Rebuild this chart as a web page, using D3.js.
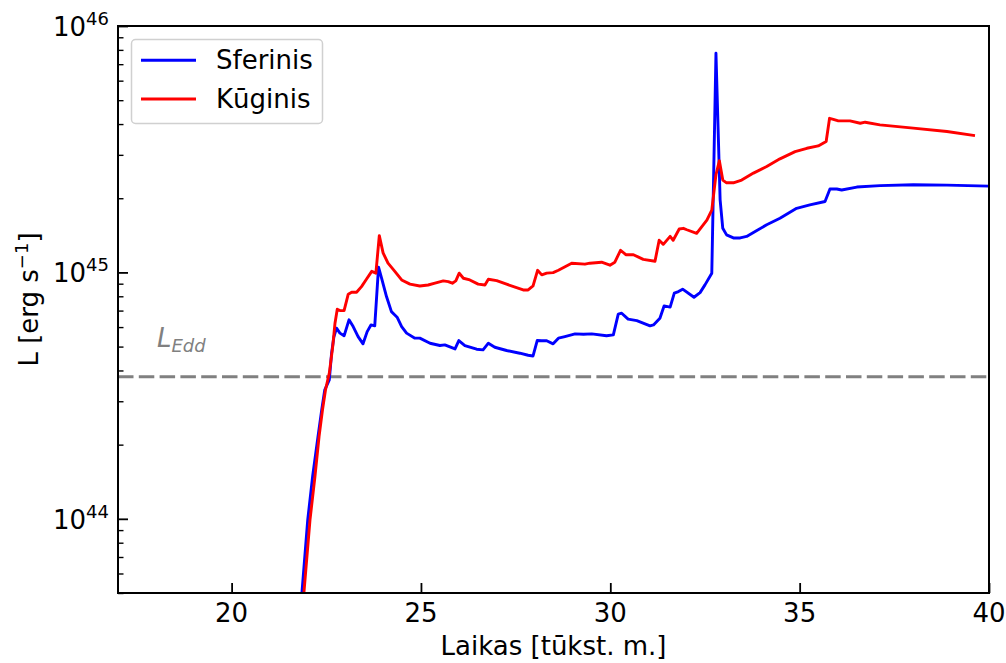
<!DOCTYPE html>
<html>
<head>
<meta charset="utf-8">
<script src="https://cdn.jsdelivr.net/npm/d3@7"></script>
<style>
  body { margin: 0; background: #fff; }
  text { font-family: "DejaVu Sans", sans-serif; }
</style>
</head>
<body>
<svg id="chart" width="1006" height="663"></svg>
<script>
// Time in thousand years, luminosity in erg/s
const sferinisT = [21.80, 22.01, 22.14, 22.28, 22.38, 22.46, 22.58, 22.64, 22.70, 22.77,
  22.86, 22.97, 23.10, 23.21, 23.34, 23.47, 23.58, 23.68, 23.78, 23.88,
  23.96, 24.09, 24.22, 24.31, 24.37, 24.49, 24.62, 24.84, 24.97, 25.24,
  25.50, 25.63, 25.90, 26.00, 26.16, 26.47, 26.64, 26.78, 26.95, 27.26,
  27.61, 27.83, 27.96, 28.07, 28.19, 28.32, 28.49, 28.63, 28.80, 29.07,
  29.29, 29.51, 29.90, 30.08, 30.21, 30.30, 30.47, 30.70, 31.05, 31.14,
  31.31, 31.42, 31.58, 31.69, 31.80, 31.91, 32.21, 32.37, 32.50, 32.68,
  32.79, 32.90, 32.97, 33.07, 33.25, 33.43, 33.60, 33.87, 34.13, 34.48,
  34.92, 35.27, 35.67, 35.80, 35.98, 36.11, 36.51, 37.12, 38.00, 38.89, 40.00];
const sferinisL = [3.89e43, 9.9e43, 1.49e44, 2.15e44, 2.77e44, 3.34e44, 3.66e44, 4.70e44, 5.47e44, 5.94e44,
  5.67e44, 5.53e44, 6.42e44, 6.03e44, 5.49e44, 5.13e44, 5.75e44, 6.12e44, 6.07e44, 1.05e45,
  9.47e44, 7.98e44, 6.93e44, 6.72e44, 6.58e44, 6.03e44, 5.67e44, 5.41e44, 5.41e44, 5.16e44,
  5.05e44, 5.08e44, 4.89e44, 5.29e44, 5.05e44, 4.88e44, 4.85e44, 5.16e44, 4.97e44, 4.82e44,
  4.70e44, 4.61e44, 4.58e44, 5.29e44, 5.28e44, 5.28e44, 5.13e44, 5.41e44, 5.49e44, 5.63e44,
  5.61e44, 5.63e44, 5.53e44, 5.58e44, 6.77e44, 6.83e44, 6.46e44, 6.37e44, 6.07e44, 6.12e44,
  6.52e44, 7.31e44, 7.23e44, 8.24e44, 8.36e44, 8.55e44, 7.93e44, 8.28e44, 8.90e44, 9.93e44,
  7.75e45, 1.97e45, 1.51e45, 1.42e45, 1.38e45, 1.38e45, 1.40e45, 1.48e45, 1.56e45, 1.66e45,
  1.82e45, 1.88e45, 1.94e45, 2.18e45, 2.18e45, 2.16e45, 2.22e45, 2.25e45, 2.27e45, 2.26e45, 2.24e45];

const kuginisT = [21.85, 22.07, 22.20, 22.31, 22.40, 22.48, 22.58, 22.67, 22.73, 22.79,
  22.86, 22.97, 23.08, 23.17, 23.30, 23.43, 23.56, 23.70, 23.81, 23.90,
  24.00, 24.13, 24.31, 24.49, 24.71, 24.97, 25.19, 25.37, 25.59, 25.72,
  25.83, 25.92, 26.01, 26.12, 26.29, 26.51, 26.69, 26.78, 27.00, 27.26,
  27.70, 27.83, 27.96, 28.08, 28.19, 28.32, 28.49, 28.63, 28.98, 29.33,
  29.46, 29.77, 29.99, 30.12, 30.27, 30.41, 30.61, 30.87, 31.18, 31.29,
  31.40, 31.58, 31.66, 31.82, 31.93, 32.02, 32.28, 32.55, 32.68, 32.79,
  32.88, 32.97, 33.07, 33.25, 33.47, 33.78, 34.13, 34.48, 34.88, 35.19,
  35.49, 35.70, 35.79, 35.89, 36.02, 36.33, 36.60, 36.73, 37.12, 38.00,
  38.89, 39.63];
const kuginisL = [3.89e43, 9.9e43, 1.48e44, 2.16e44, 2.77e44, 3.34e44, 3.90e44, 5.00e44, 6.22e44, 7.09e44,
  7.00e44, 7.00e44, 8.16e44, 8.31e44, 8.31e44, 8.76e44, 9.38e44, 1.01e45, 9.93e44, 1.41e45,
  1.20e45, 1.09e45, 1.01e45, 9.32e44, 8.96e44, 8.81e44, 8.89e44, 9.04e44, 9.24e44, 9.18e44,
  9.04e44, 9.24e44, 9.93e44, 9.47e44, 9.32e44, 8.96e44, 8.89e44, 9.38e44, 9.26e44, 8.96e44,
  8.49e44, 8.49e44, 8.81e44, 1.02e45, 9.77e44, 9.93e44, 9.98e44, 1.02e45, 1.09e45, 1.08e45,
  1.09e45, 1.10e45, 1.07e45, 1.10e45, 1.23e45, 1.18e45, 1.18e45, 1.13e45, 1.11e45, 1.35e45,
  1.30e45, 1.40e45, 1.35e45, 1.50e45, 1.51e45, 1.49e45, 1.44e45, 1.63e45, 1.79e45, 2.49e45,
  2.84e45, 2.37e45, 2.31e45, 2.31e45, 2.37e45, 2.53e45, 2.69e45, 2.89e45, 3.09e45, 3.19e45,
  3.26e45, 3.40e45, 4.22e45, 4.18e45, 4.12e45, 4.12e45, 4.03e45, 4.07e45, 3.97e45, 3.85e45,
  3.73e45, 3.59e45];

const seriesNames = ["Sferinis", "Kūginis"];
const seriesColors = ["#0000ff", "#ff0000"];
const xTicks = [20, 25, 30, 35, 40];
const yTickExps = [44, 45, 46];
const lEdd = 3.77e44;

const W = 1006, H = 663;
const m = { left: 118, right: 17, top: 26, bottom: 70 };
const pw = W - m.left - m.right, ph = H - m.top - m.bottom;
const FS = 26;

const svg = d3.select("#chart");
const x = d3.scaleLinear().domain([17, 40]).range([m.left, m.left + pw]);
const y = d3.scaleLog().domain([5e43, 1e46]).range([m.top + ph, m.top]);

svg.append("defs").append("clipPath").attr("id", "plotclip")
  .append("rect").attr("x", m.left).attr("y", m.top).attr("width", pw).attr("height", ph);

// Eddington luminosity
svg.append("line")
  .attr("x1", m.left).attr("x2", m.left + pw)
  .attr("y1", y(lEdd)).attr("y2", y(lEdd))
  .attr("stroke", "#808080").attr("stroke-width", 3)
  .attr("stroke-dasharray", "15.5,5.3");

const eddLabel = svg.append("text")
  .attr("x", 157).attr("y", 347)
  .attr("fill", "#808080").attr("font-size", FS).attr("font-style", "italic");
eddLabel.append("tspan").text("L");
eddLabel.append("tspan").attr("dy", 5).attr("font-size", 18).text("Edd");

// Luminosity curves
const line = d3.line().x(d => x(d[0])).y(d => y(d[1]));
const series = [
  d3.zip(sferinisT, sferinisL),
  d3.zip(kuginisT, kuginisL)
];
const plot = svg.append("g").attr("clip-path", "url(#plotclip)");
series.forEach((s, i) => {
  plot.append("path").datum(s)
    .attr("d", line)
    .attr("fill", "none")
    .attr("stroke", seriesColors[i])
    .attr("stroke-width", 2.9)
    .attr("stroke-linejoin", "round");
});

// Ticks (inward)
const xAxis = svg.append("g").attr("transform", `translate(0,${m.top + ph})`)
  .call(d3.axisBottom(x).tickValues(xTicks).tickSize(-10).tickFormat(""));
xAxis.select(".domain").remove();
xAxis.selectAll("line").attr("stroke", "#000").attr("stroke-width", 1.8);
xTicks.forEach(t => {
  svg.append("text").attr("x", x(t)).attr("y", 622)
    .attr("text-anchor", "middle").attr("font-size", FS).text(t);
});

const majorY = yTickExps.map(e => Math.pow(10, e));
const minorY = [];
[43, 44, 45].forEach(e => {
  for (let k = 2; k <= 9; k++) {
    const v = k * Math.pow(10, e);
    if (v >= 5e43 && v <= 1e46) minorY.push(v);
  }
});
const yMajor = svg.append("g").attr("transform", `translate(${m.left},0)`)
  .call(d3.axisLeft(y).tickValues(majorY).tickSize(-10).tickFormat(""));
yMajor.select(".domain").remove();
yMajor.selectAll("line").attr("stroke", "#000").attr("stroke-width", 1.8);
const yMinor = svg.append("g").attr("transform", `translate(${m.left},0)`)
  .call(d3.axisLeft(y).tickValues(minorY).tickSize(-5.5).tickFormat(""));
yMinor.select(".domain").remove();
yMinor.selectAll("line").attr("stroke", "#000").attr("stroke-width", 1.4);

yTickExps.forEach(e => {
  const t = svg.append("text")
    .attr("x", 109).attr("y", y(Math.pow(10, e)) + 10)
    .attr("text-anchor", "end").attr("font-size", FS);
  t.append("tspan").text("10");
  t.append("tspan").attr("dy", -11).attr("font-size", 18).text(e);
});

// Frame
svg.append("rect")
  .attr("x", m.left).attr("y", m.top).attr("width", pw).attr("height", ph)
  .attr("fill", "none").attr("stroke", "#000").attr("stroke-width", 2);

// Axis labels
svg.append("text")
  .attr("x", m.left + pw / 2).attr("y", 655)
  .attr("text-anchor", "middle").attr("font-size", FS)
  .text("Laikas [tūkst. m.]");

const yl = svg.append("text")
  .attr("transform", `translate(38,${m.top + ph / 2 - 10}) rotate(-90)`)
  .attr("text-anchor", "middle").attr("font-size", FS);
yl.append("tspan").text("L [erg s");
yl.append("tspan").attr("dy", -10).attr("font-size", 18).text("−1");
yl.append("tspan").attr("dy", 10).text("]");

// Legend
const lg = svg.append("g");
lg.append("rect")
  .attr("x", 131.5).attr("y", 39.5).attr("width", 191).attr("height", 84)
  .attr("rx", 4).attr("fill", "#fff").attr("fill-opacity", 0.8)
  .attr("stroke", "#d0d0d0").attr("stroke-width", 1.5);
seriesNames.forEach((n, i) => {
  const cy = 60.3 + i * 38.7;
  lg.append("line").attr("x1", 141).attr("x2", 196).attr("y1", cy).attr("y2", cy)
    .attr("stroke", seriesColors[i]).attr("stroke-width", 2.9);
  lg.append("text").attr("x", 216).attr("y", cy + 9).attr("font-size", FS).text(n);
});
</script>
</body>
</html>
